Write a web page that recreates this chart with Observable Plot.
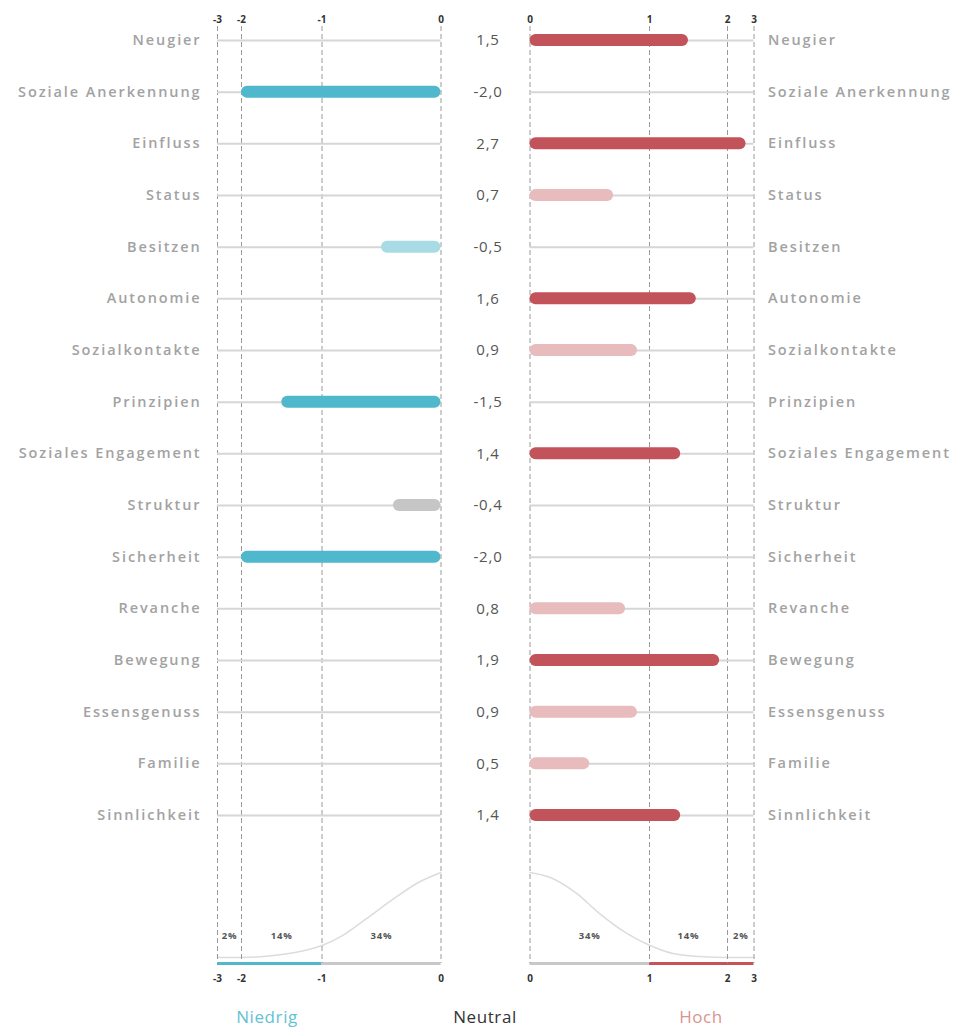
<!DOCTYPE html>
<html>
<head>
<meta charset="utf-8">
<script src="https://cdn.jsdelivr.net/npm/d3@7"></script>
<script src="https://cdn.jsdelivr.net/npm/@observablehq/plot@0.6"></script>
<style>
  html, body { margin: 0; padding: 0; background: #fff; }
  #chart { position: relative; width: 956px; height: 1028px; font-family: "Open Sans", sans-serif; }
  #chart svg { position: absolute; left: 0; top: 0; }
  #chart svg [aria-label="y-axis tick label"] text { letter-spacing: 1.9px; }
  #chart svg [aria-label="text"] text { letter-spacing: 0.8px; }
  .legend { position: absolute; top: 1005px; font-size: 17px; line-height: 23px; transform: translateX(-50%); white-space: nowrap; letter-spacing: 0.6px; }
</style>
</head>
<body>
<div id="chart"></div>
<script>
// ---- data ----
const categories = ["Neugier", "Soziale Anerkennung", "Einfluss", "Status", "Besitzen", "Autonomie",
  "Sozialkontakte", "Prinzipien", "Soziales Engagement", "Struktur", "Sicherheit", "Revanche",
  "Bewegung", "Essensgenuss", "Familie", "Sinnlichkeit"];
const values = [1.5, -2.0, 2.7, 0.7, -0.5, 1.6, 0.9, -1.5, 1.4, -0.4, -2.0, 0.8, 1.9, 0.9, 0.5, 1.4];

const ticksLow = [-3, -2, -1, 0];
const ticksHigh = [0, 1, 2, 3];

// normal-curve outline (z, relative height)
const curveLowZ = [-3, -2, -1.6, -1.26, -1, -0.84, -0.65, -0.42, -0.19, 0];
const curveLowH = [0.066, 0.066, 0.088, 0.135, 0.198, 0.297, 0.47, 0.69, 0.89, 1.0];
const curveHighZ = [0, 0.17, 0.39, 0.58, 0.81, 1.0, 1.3, 1.64, 2, 3];
const curveHighH = [1.0, 0.945, 0.77, 0.55, 0.33, 0.2, 0.11, 0.077, 0.066, 0.066];

const pctLabels = ["2%", "14%", "34%"];
const pctLowFrom = [-3, -2, -1], pctLowTo = [-2, -1, 0];
const pctHighFrom = [2, 1, 0], pctHighTo = [3, 2, 1];

const segLowFrom = [-3, -1], segLowTo = [-1, 0], segLowKind = ["low", "neutral"];
const segHighFrom = [0, 1], segHighTo = [1, 3], segHighKind = ["neutral", "high"];

const legendLabels = ["Niedrig", "Neutral", "Hoch"];

// ---- derived tables ----
const rows = categories.map((name, i) => ({name, value: values[i]}));
const curveLow = curveLowZ.map((z, i) => ({z, h: curveLowH[i]}));
const curveHigh = curveHighZ.map((z, i) => ({z, h: curveHighH[i]}));
const pctLow = pctLabels.map((label, i) => ({label, mid: (pctLowFrom[i] + pctLowTo[i]) / 2}));
const pctHigh = pctLabels.map((label, i) => ({label, mid: (pctHighFrom[i] + pctHighTo[i]) / 2}));
const segLow = segLowKind.map((kind, i) => ({kind, from: segLowFrom[i], to: segLowTo[i]}));
const segHigh = segHighKind.map((kind, i) => ({kind, from: segHighFrom[i], to: segHighTo[i]}));

const fmt = v => v.toFixed(1).replace(".", ",");

// ---- styles ----
const W = 956, H = 1000;
const FONT = "Open Sans";
const xLow = {type: "linear", domain: ticksLow, range: [217, 241, 321.5, 440.5], round: false};
const xHigh = {type: "linear", domain: ticksHigh, range: [529.5, 649, 727, 753.5], round: false};
const colorScale = {
  type: "threshold",
  domain: [-0.95, -0.45, 0.45, 0.95],
  range: ["#4fb8cd", "#a9dbe4", "#c6c6c6", "#e8bcbd", "#c2535a"]
};
const segColor = {type: "ordinal", domain: ["low", "neutral", "high"], range: ["#4fb8cd", "#c8c8c8", "#c8525a"]};
const yBand = {type: "band", domain: categories, range: [40 - 25.83, 815 + 25.83], padding: 0, round: false, axis: null};
const inset = (51.67 - 12) / 2;
const grid = {stroke: "#9a9a9a", strokeWidth: 1, strokeDasharray: "5,3"};
const rowLine = {stroke: "#d6d6d6", strokeWidth: 2};
const tickText = {tickSize: 0, tickFormat: d => String(d), fontWeight: "bold", fontSize: 10, fill: "#333", label: null};
const catText = {tickSize: 0, fill: "#a2a2a2", fontSize: 14.5, fontWeight: 600, label: null};
const common = {width: W, height: H, style: {background: "transparent", fontFamily: FONT, overflow: "visible"}};

const topFrame = {marginTop: 26, marginBottom: H - 963};
const bottomFrame = {marginTop: 860, marginBottom: H - 963};

// ---- left (low) top ----
const leftTop = Plot.plot({
  ...common, ...topFrame,
  marginLeft: 217, marginRight: W - 440.5,
  x: xLow, y: yBand, color: colorScale,
  marks: [
    Plot.ruleX(ticksLow, grid),
    Plot.ruleY(categories, {y: d => d, x1: -3, x2: 0, ...rowLine}),
    Plot.barX(rows.filter(d => d.value < 0), {y: "name", x1: 0, x2: "value", fill: "value", rx: 6, insetTop: inset, insetBottom: inset}),
    Plot.axisX(ticksLow, {anchor: "top", tickPadding: 4, ...tickText}),
    Plot.axisY({anchor: "left", tickPadding: 16, ...catText}),
    Plot.text(rows, {x: 0, y: "name", text: d => fmt(d.value), dx: 47, fill: "#555", fontSize: 15})
  ]
});

// ---- right (high) top ----
const rightTop = Plot.plot({
  ...common, ...topFrame,
  marginLeft: 529.5, marginRight: W - 753.5,
  x: xHigh, y: yBand, color: colorScale,
  marks: [
    Plot.ruleX(ticksHigh, grid),
    Plot.ruleY(categories, {y: d => d, x1: 0, x2: 3, ...rowLine}),
    Plot.barX(rows.filter(d => d.value > 0), {y: "name", x1: 0, x2: "value", fill: "value", rx: 6, insetTop: inset, insetBottom: inset}),
    Plot.axisX(ticksHigh, {anchor: "top", tickPadding: 4, ...tickText}),
    Plot.axisY({anchor: "right", tickPadding: 14, ...catText})
  ]
});

// ---- bottom distributions ----
const yCurve = {type: "linear", domain: [0, 1], range: [963, 872], round: false, axis: null};
const pctText = {frameAnchor: "bottom", dy: -25, fontSize: 9.5, fontWeight: "bold", fill: "#555"};

const leftBottom = Plot.plot({
  ...common, ...bottomFrame,
  marginLeft: 217, marginRight: W - 440.5,
  x: xLow, y: yCurve, color: segColor,
  marks: [
    Plot.line(curveLow, {x: "z", y: "h", stroke: "#dcdcdc", strokeWidth: 1.5, curve: "monotone-x"}),
    Plot.text(pctLow, {x: "mid", text: "label", ...pctText}),
    Plot.ruleY(segLow, {y: 0, x1: "from", x2: "to", stroke: "kind", strokeWidth: 3}),
    Plot.axisX(ticksLow, {anchor: "bottom", tickPadding: 11, ...tickText})
  ]
});

const rightBottom = Plot.plot({
  ...common, ...bottomFrame,
  marginLeft: 529.5, marginRight: W - 753.5,
  x: xHigh, y: yCurve, color: segColor,
  marks: [
    Plot.line(curveHigh, {x: "z", y: "h", stroke: "#dcdcdc", strokeWidth: 1.5, curve: "monotone-x"}),
    Plot.text(pctHigh, {x: "mid", text: "label", ...pctText}),
    Plot.ruleY(segHigh, {y: 0, x1: "from", x2: "to", stroke: "kind", strokeWidth: 3}),
    Plot.axisX(ticksHigh, {anchor: "bottom", tickPadding: 11, ...tickText})
  ]
});

const chart = document.getElementById("chart");
[leftBottom, rightBottom, leftTop, rightTop].forEach(svg => chart.appendChild(svg));

// legend labels below the plots
const legendX = [267, 485, 701];
const legendColor = ["#62c2d3", "#333", "#d9948f"];
legendLabels.forEach((t, i) => {
  const el = document.createElement("div");
  el.className = "legend";
  el.textContent = t;
  el.style.left = legendX[i] + "px";
  el.style.color = legendColor[i];
  chart.appendChild(el);
});
</script>
</body>
</html>
